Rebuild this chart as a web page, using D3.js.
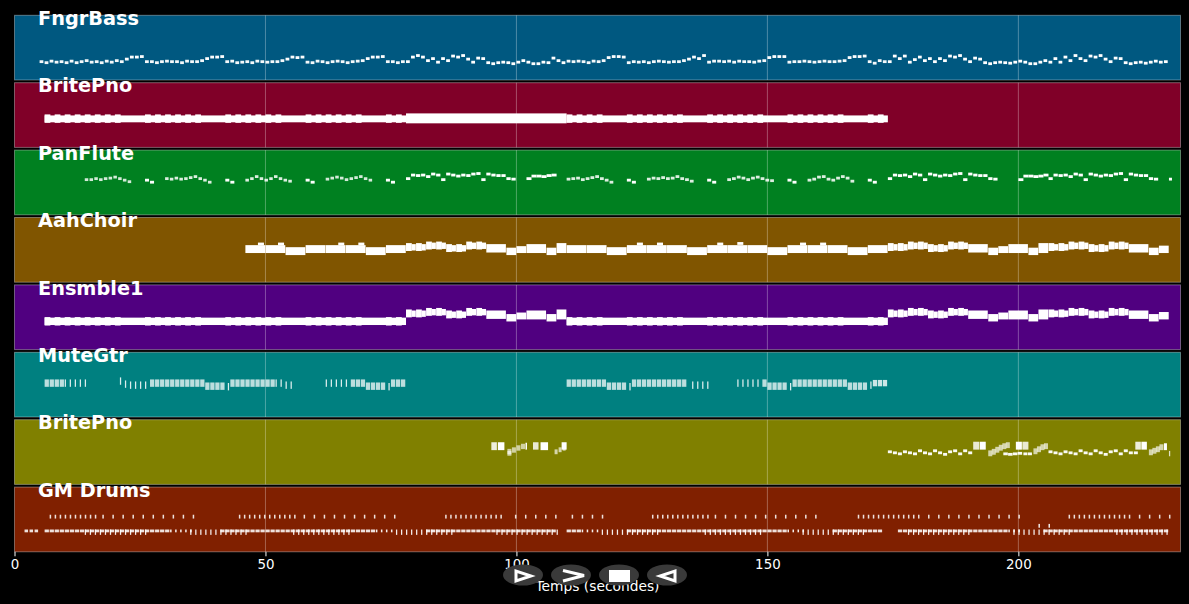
<!DOCTYPE html>
<html>
<head>
	<title></title>
	<meta charset="utf-8">
	<script src="https://d3js.org/d3.v7.min.js"></script>
	<style>
		html, body { margin:0; background:#000; }
		text { font-family:"DejaVu Sans"; fill:#fff; }
	</style>
</head>
<body>
<div id="chart"></div>
<script type="text/javascript">
// each row: [start s, step s, duration s, chord span, velocity, [lowest pitch of each note]]
const fngrBass = [
	[5,1,.75,0,120,[36,34,37,35,36,34,37,34,36,38,35,36,34,37,35,38,36]],
	[22,1,.75,0,125,[41,45,45,46]],
	[26,1,.75,0,120,[36,36,34,36,37,36,36,34,37,36,36,38]],
	[38,1,.75,0,125,[42,45,45,46]],
	[42,1,.75,0,120,[36,37,34,35,36,34,37,36,35,36,36,38]],
	[54,1,.75,0,125,[41,45,44,45]],
	[58,1,.75,0,120,[35,34,37,36,34,36,37,36,34,36,37,38]],
	[70,1,.75,0,125,[42,45,45,46]],
	[74,1,.75,0,120,[36,36,34,36]],
	[78,1,.75,0,127,[36,45,48,45,38,42,35,42,38,47,45,48,41,35,43,42,34,32,34,35,34,32,35,38,35,32,32,35,34,43,38,34]],
	[110,1,.75,0,120,[37,36,37,36,34,37,36,38]],
	[118,1,.75,0,125,[44,46,46,45]],
	[122,1,.75,0,120,[34,36,35,36,34,36,37,36,35,36,36,38]],
	[134,1,.75,0,125,[41,45,42,48]],
	[138,1,.75,0,120,[35,37,37,36,37,35,37,36,36,35,37,38]],
	[150,1,.75,0,125,[44,46,46,46]],
	[154,1,.75,0,120,[35,36,36,37,36,35,36,37,36,36,37,38]],
	[166,1,.75,0,125,[44,46,46,47]],
	[170,1,.75,0,120,[36,33,38,36]],
	[174,1,.75,0,127,[36,47,42,47,35,40,45,38,42,36,42,38,47,45,48,41,36,43,41,34,32,34,35,34,33,35,37,35,32,32,35,38]],
	[206,1,.75,0,127,[35,42,35,45,38,48,42,38,47,45,48,41,36,43,42,34,32,34,35,33,35,37,35,36]]
];
const britePno = [
	[6,72,72,8,127,[52]],
	[78,32,32,14,127,[50]],
	[110,64,64,8,127,[52]],
	[6,2,1.15,11,127,[51,51,51,51,51,51,51,51]],
	[26,2,1.15,11,127,[51,51,51,51,51,51]],
	[42,2,1.15,11,127,[51,51,51,51,51,51]],
	[58,2,1.15,11,127,[51,51,51,51,51,51]],
	[74,2,1.15,11,127,[51,51]],
	[110,2,1.15,11,127,[51,51,51,51]],
	[122,2,1.15,11,127,[51,51,51,51,51,51]],
	[138,2,1.15,11,127,[51,51,51,51,51,51]],
	[154,2,1.15,11,127,[51,51,51,51,51,51]],
	[170,2,1.15,11,127,[51,51]]
];
const panFlute = [
	[14,.95,.7,0,100,[69,69,71,69,71,72,74,71,68,65]],
	[26,1,.8,0,125,[68,64]],
	[30,.95,.7,0,105,[71,70,72,70,71,73,75,71,68,64]],
	[42,1,.8,0,125,[68,64]],
	[46,.95,.7,0,105,[68,71,75,71,68,71,75,71,68,66]],
	[58,1,.8,0,125,[68,64]],
	[62,.95,.7,0,100,[70,72,74,72,69,71,73,75,71,68]],
	[74,1,.8,0,125,[68,64]],
	[78,1,.85,0,127,[71,78,77,78,75,80,78,69,80,78,76,78,77,80,81,69,80,78,77,77,71,70]],
	[102,1,1,0,127,[71,76,76,75,77,78]],
	[110,.95,.75,0,105,[70,71,72,69,71,73,75,71,68,64]],
	[122,1,.8,0,125,[68,64]],
	[126,.95,.75,0,105,[70,72,71,73,71,72,75,71,69,66]],
	[138,1,.8,0,125,[68,64]],
	[142,.95,.75,0,105,[69,71,74,72,69,72,74,71,68,67]],
	[154,1,.8,0,125,[68,64]],
	[158,.95,.75,0,105,[68,70,74,75,70,68,72,75,72,66]],
	[170,1,.8,0,125,[68,64]],
	[174,1,.85,0,127,[71,78,77,78,75,80,78,69,80,78,76,78,77,80,81,69,80,78,77,77,71,70]],
	[200,1,1,0,127,[69,76,76,75,76,78]],
	[206,1,.85,0,127,[71,78,77,78,75,80,78,69,80,78,76,78,77,80,81,69,80,78,77,77,71,70]],
	[230,1,.6,0,127,[70]]
];
const aahChoir = [
	[46,4,3.95,10,127,[60,60,56,60,60,60,56,60]],
	[48.5,4,1.2,0,127,[75,75]],
	[64.5,4,1.2,0,127,[75,75]],
	[78,2,1.15,10,127,[64,64,67,67,62,62,67,67]],
	[79.1,2,.85,7,127,[65,65,68,68,63,63,68,68]],
	[94,4,3.9,11,127,[61]],
	[98,2,1.95,9,127,[56]],
	[100,2,1.95,8,127,[60]],
	[102,4,3.9,12,127,[60]],
	[106,2,1.95,9,127,[56]],
	[108,2,1.95,14,127,[60]],
	[110,4,3.95,10,127,[60,60,56,60,60,60,56,60,60,60,56,60,60,60,56,60]],
	[124,4,1.2,0,127,[75,75]],
	[140,4,1.2,0,127,[75,76]],
	[156.5,4,1.2,0,127,[75,75]],
	[174,2,1.15,10,127,[64,64,67,67,62,62,67,67]],
	[175.1,2,.85,7,127,[65,65,68,68,63,63,68,68]],
	[190,4,3.9,11,127,[61]],
	[194,2,1.95,9,127,[56]],
	[196,2,1.95,8,127,[60]],
	[198,4,3.9,12,127,[60]],
	[202,2,1.95,9,127,[56]],
	[204,2,1.95,14,127,[60]],
	[206,2,1.15,10,127,[64,64,67,67,62,62,67,67]],
	[207.1,2,.85,7,127,[65,65,68,68,63,63,68,68]],
	[222,4,3.9,11,127,[61]],
	[226,2,1.95,9,127,[56]],
	[228,2,1.95,9,127,[60]]
];
const ensmble = [
	[6,72,72,9,127,[51]],
	[110,64,64,9,127,[51]],
	[6,2,1.15,11,127,[50,50,50,50,50,50,50,50]],
	[26,2,1.15,11,127,[50,50,50,50,50,50]],
	[42,2,1.15,11,127,[50,50,50,50,50,50]],
	[58,2,1.15,11,127,[50,50,50,50,50,50]],
	[74,2,1.15,11,127,[50,50]],
	[110,2,1.15,11,127,[50,50,50,50]],
	[122,2,1.15,11,127,[50,50,50,50,50,50]],
	[138,2,1.15,11,127,[50,50,50,50,50,50]],
	[154,2,1.15,11,127,[50,50,50,50,50,50]],
	[170,2,1.15,11,127,[50,50]],
	[78,2,1.15,10,127,[66,66,69,69,64,64,69,69]],
	[79.1,2,.85,7,127,[67,67,70,70,65,65,70,70]],
	[94,4,3.9,11,127,[63]],
	[98,2,1.95,9,127,[58]],
	[100,2,1.95,8,127,[62]],
	[102,4,3.9,12,127,[62]],
	[106,2,1.95,9,127,[58]],
	[108,2,1.95,14,127,[62]],
	[174,2,1.15,10,127,[66,66,69,69,64,64,69,69]],
	[175.1,2,.85,7,127,[67,67,70,70,65,65,70,70]],
	[190,4,3.9,11,127,[63]],
	[194,2,1.95,9,127,[58]],
	[196,2,1.95,8,127,[62]],
	[198,4,3.9,12,127,[62]],
	[202,2,1.95,9,127,[58]],
	[204,2,1.95,14,127,[62]],
	[206,2,1.15,10,127,[66,66,69,69,64,64,69,69]],
	[207.1,2,.85,7,127,[67,67,70,70,65,65,70,70]],
	[222,4,3.9,11,127,[63]],
	[226,2,1.95,9,127,[58]],
	[228,2,1.95,9,127,[62]]
];
const muteGtr = [
	[6,1,.85,9,85,[62,62,62,62]],
	[10,1,.25,9,105,[62,62,62,62,62]],
	[21,1,.25,9,105,[66,60,58,58,58,58]],
	[27,1,.85,9,85,[62,62,62,62,62,62,62,62,62,62,62]],
	[38,1,.85,9,85,[56,56,56,56]],
	[42.5,1,.25,9,105,[55]],
	[43,1,.85,9,85,[62,62,62,62,62,62,62,62,62]],
	[52,1,.25,9,105,[62,62,58,58]],
	[62,1,.25,9,105,[62,62,62,62,62]],
	[67,1,.85,9,85,[62,62,62]],
	[70,1,.85,9,85,[56,56,56,56]],
	[74.5,1,.25,9,105,[55]],
	[75,1,.85,9,85,[62,62,62]],
	[110,1,.85,9,85,[62,62,62,62,62,62,62,62]],
	[118,1,.85,9,85,[56,56,56,56]],
	[122.5,1,.25,9,105,[55]],
	[123,1,.85,9,85,[62,62,62,62,62,62,62,62,62,62,62]],
	[135,1,.25,9,105,[58,58,58,58]],
	[144,1,.25,9,105,[62,62,62,62,62]],
	[149,1,.85,9,85,[62]],
	[150,1,.85,9,85,[56,56,56,56]],
	[154.5,1,.25,9,105,[55]],
	[155,1,.85,9,85,[62,62,62,62,62,62,62,62,62,62,62]],
	[166,1,.85,9,85,[56,56,56,56]],
	[170.5,1,.25,9,105,[58]],
	[171,1,.85,7,95,[63,63,63]]
];
const britePno2 = [
	[95,1.3,1.1,10,105,[70]],
	[96.3,1.3,1.3,10,127,[70]],
	[98.2,.9,.8,5,70,[62,65,69,72]],
	[98.2,.9,.8,4,70,[59]],
	[101.8,1,.3,8,127,[71]],
	[103.3,1.5,1.1,9,100,[71]],
	[104.8,1.5,1.5,10,127,[70]],
	[107.6,.8,.6,4,75,[62,66,69]],
	[109,1,1,9,127,[71]],
	[174,1,.8,0,120,[64,62,60,64,62,60,66,62,60,66,62,59,64,66,60,66,62]],
	[191,1.3,1.2,10,100,[71]],
	[192.3,1.3,1.2,10,127,[71]],
	[194,.7,.8,6,75,[58,61,65,69,72,74]],
	[197,.95,.9,0,120,[60,59,60,61]],
	[199.5,1.3,1.2,10,127,[71]],
	[200.8,1.3,1.2,10,100,[71]],
	[201,.9,.8,0,120,[60,60]],
	[203,.7,.8,6,75,[62,66,70,72]],
	[206,1,.8,0,120,[64,62,60,64,62,60,66,62,60,66,62,59,64,66,60,66,62,62]],
	[223.3,1.2,1.1,10,105,[71]],
	[224.5,1.2,1.1,10,127,[71]],
	[226,.7,.8,6,75,[60,63,66,70]],
	[229,.6,.6,8,127,[70]],
	[230,1,.25,5,90,[58]]
];
const gmDrums = [
	[2,1,.7,0,105,[41,41,41]],
	[6,1,.85,0,105,[41,41,41,41,41,41,41,41,41,41,41,41,41,41,41,41,41,41,41,41,41,41,41,41,41]],
	[31,1,.3,0,115,[41,41,41,41,41]],
	[41,1,.85,0,105,[41,41,41,41,41,41,41,41,41,41,41,41,41,41,41,41,41,41,41,41,41,41,41,41,41,41,41,41,41,41,41]],
	[72,1,.3,0,115,[41,41,41,41]],
	[82,1,.85,0,105,[41,41,41,41,41,41,41,41,41,41,41,41,41,41,41,41,41,41,41,41,41,41,41,41,41,41]],
	[110,1,.85,0,105,[41,41,41]],
	[113,1,.3,0,115,[41,41,41,41]],
	[122,1,.85,0,105,[41,41,41,41,41,41,41,41,41,41,41,41,41,41,41,41,41,41,41,41,41,41,41,41,41,41,41,41,41,41,41,41]],
	[154,1,.3,0,115,[41,41,41,41]],
	[163,1,.85,0,105,[41,41,41,41,41,41,41,41,41,41]],
	[176,1,.85,0,105,[41,41,41,41,41,41,41,41,41,41,41,41,41,41,41,41,41,41,41,41,41,41]],
	[198,1,.3,0,115,[41,41,41]],
	[205,1,.85,0,105,[41,41,41,41,41,41,41,41,41,41,41,41,41,41,41,41,41,41,41,41,41,41,41,41,41]],
	// low hits hanging under the line
	[14,1,.25,5,115,[36,36,36,36,36,36,36,36,36,36,36,36,36]],
	[35,1,.25,5,115,[36,36,36,36,36,36,36,36,36,36,36,36]],
	[55.5,1,.25,5,115,[36,36,36,36,36,36,36,36,36,36,36,36]],
	[76,1,.25,5,115,[36,36,36,36,36,36,36,36,36,36,36,36]],
	[96,1,.25,5,115,[36,36,36,36,36,36,36,36,36,36,36,36,36]],
	[117,1,.25,5,115,[36,36,36,36,36,36,36,36,36,36,36,36]],
	[137.5,1,.25,5,115,[36,36,36,36,36,36,36,36,36,36,36,36]],
	[157,1,.25,5,115,[36,36,36,36,36,36,36,36,36,36,36,36,36]],
	[178,1,.25,5,115,[36,36,36,36,36,36,36,36,36,36,36,36,36]],
	[199,1,.25,5,115,[36,36,36,36,36,36,36,36,36,36,36,36]],
	[219.5,1,.25,5,115,[36,36,36,36,36,36,36,36,36,36,36]],
	[204,2,.3,2,110,[50,50]],
	// upper hits
	[7,1,.3,2,105,[68,68,68,68,68,68,68,68,68,68]],
	[17.5,2,.3,2,105,[68,68,68,68,68,68,68,68,68,68]],
	[44.7,1,.3,2,105,[68,68,68,68,68,68,68,68,68,68,68,68]],
	[57.6,2,.3,2,105,[68,68,68,68,68,68,68,68,68,68]],
	[85.8,1,.3,2,105,[68,68,68,68,68,68,68,68,68,68,68,68]],
	[99.7,2,.3,2,105,[68,68,68,68,68]],
	[111,2,.3,2,105,[68,68,68,68]],
	[127,1,.3,2,105,[68,68,68,68,68,68,68,68,68,68,68,68]],
	[139.5,2,.3,2,105,[68,68,68,68,68,68,68,68,68,68,68]],
	[168,1,.3,2,105,[68,68,68,68,68,68,68,68,68,68,68,68,68]],
	[182,2,.3,2,105,[68,68,68,68,68,68,68,68,68,68]],
	[210,1,.3,2,105,[68,68,68,68,68,68,68,68,68,68,68,68,68]],
	[224,2,.3,2,105,[68,68,68,68]]
];

const trackNames = ["FngrBass","BritePno","PanFlute","AahChoir","Ensmble1","MuteGtr","BritePno","GM Drums"];
const trackRows = [fngrBass,britePno,panFlute,aahChoir,ensmble,muteGtr,britePno2,gmDrums];
const trackColors = ["#005880","#800028","#008020","#805500","#500080","#008080","#808000","#802000"];
const timeTicks = [0,50,100,150,200];

const width = 1189, height = 604, noteThickness = 2.8;

const x = d3.scaleLinear().domain([0,232.3]).range([14.5,1180.5]);
const band = d3.scaleBand().domain(d3.range(trackNames.length)).range([15.3,551.8]).paddingInner(0.04);
const pitch = d3.scaleLinear().domain([0,127]).range([band.bandwidth(),0]);
const velocity = d3.scaleLinear().domain([0,127]).range([.2,1]);

const svg = d3.select('#chart')
	.append('svg')
		.attr('width',width)
		.attr('height',height)
		.style('display','block');

const track = svg.selectAll('g.track')
	.data(trackNames)
	.enter()
	.append('g')
		.attr('class','track')
		.attr('transform',(d,i)=>'translate(0,'+band(i)+')');

track.append('rect')
	.attr('x',x(0))
	.attr('width',x.range()[1]-x(0))
	.attr('height',band.bandwidth())
	.attr('fill',(d,i)=>trackColors[i])
	.attr('stroke','#fff')
	.attr('stroke-opacity',.35);

track.selectAll('line')
	.data(timeTicks.slice(1))
	.enter()
	.append('line')
		.attr('x1',d=>x(d))
		.attr('x2',d=>x(d))
		.attr('y2',band.bandwidth())
		.attr('stroke','#fff')
		.attr('stroke-opacity',.3);

// notes
track.selectAll('rect.note')
	.data((d,i)=>trackRows[i].flatMap(r=>r[5].map((p,n)=>({
		t:r[0]+n*r[1], dur:r[2], lo:p, hi:p+r[3], vel:r[4]
	}))))
	.enter()
	.append('rect')
		.attr('class','note')
		.attr('x',d=>x(d.t))
		.attr('width',d=>x(d.t+d.dur)-x(d.t))
		.attr('y',d=>pitch(d.hi)-noteThickness/2)
		.attr('height',d=>pitch(d.lo)-pitch(d.hi)+noteThickness)
		.attr('fill','#fff')
		.attr('opacity',d=>velocity(d.vel));

track.append('text')
	.attr('x',38)
	.attr('y',9.7)
	.attr('font-size',19.3)
	.attr('font-weight','bold')
	.text(d=>d);

const axis = svg.append('g')
	.attr('transform','translate(0,'+(band(7)+band.bandwidth())+')')
	.call(d3.axisBottom(x).tickValues(timeTicks).tickSize(4.5).tickPadding(3.5));
axis.select('.domain').remove();
axis.selectAll('.tick line').attr('stroke','#fff');
axis.selectAll('text').attr('font-size',13.4).attr('font-family','DejaVu Sans').attr('fill','#fff');

svg.append('text')
	.attr('x',597.5)
	.attr('y',590.5)
	.attr('text-anchor','middle')
	.attr('font-size',13.8)
	.text('Temps (secondes)');

// the four round buttons sitting over the axis
const buttonX = [523,571,619,667];
const buttonIcons = ['M516,571 L516,581 L531,576 Z','M563,570.5 L584,575.5 L563,581','','M675,571 L675,581 L660,576 Z'];

svg.selectAll('ellipse')
	.data(buttonX)
	.enter()
	.append('ellipse')
		.attr('cx',d=>d)
		.attr('cy',575)
		.attr('rx',20)
		.attr('ry',10.5)
		.attr('fill','#3a3a3a');

svg.selectAll('path.icon')
	.data(buttonIcons.filter(d=>d))
	.enter()
	.append('path')
		.attr('class','icon')
		.attr('d',d=>d)
		.attr('fill','none')
		.attr('stroke','#fff')
		.attr('stroke-width',3);

svg.append('rect')
	.attr('x',609)
	.attr('y',570)
	.attr('width',21)
	.attr('height',12)
	.attr('fill','#fff');
</script>
</body>
</html>
